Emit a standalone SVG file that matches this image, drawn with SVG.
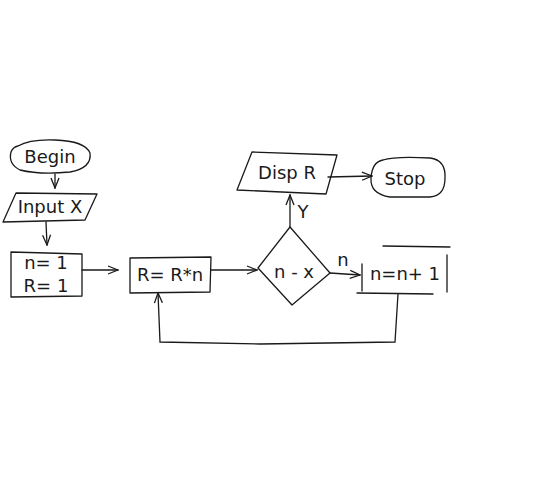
<svg xmlns="http://www.w3.org/2000/svg" width="538" height="480" viewBox="0 0 538 480">
<style>
.s{fill:none;stroke:#1a1a1a;stroke-width:1.3;stroke-linejoin:round;stroke-linecap:round}
.t{font-family:"DejaVu Sans","Liberation Sans",sans-serif;font-size:18px;fill:#1a1a1a;text-anchor:middle}
.c{fill:none;stroke:#1a1a1a;stroke-width:1.3;stroke-linecap:round;marker-end:url(#a)}
</style>
<defs>
<marker id="a" viewBox="0 0 12 10" refX="11" refY="5" markerWidth="12" markerHeight="10" markerUnits="userSpaceOnUse" orient="auto">
<path d="M1,1 L11,5 L1,9" fill="none" stroke="#1a1a1a" stroke-width="1.3"/>
</marker>
</defs>
<rect width="538" height="480" fill="#fff"/>
<g id="begin">
<path class="s" d="M18,146 Q30,139 55,140 Q85,141 90,153 Q92,168 70,172 Q40,175 20,170 Q8,164 11,152 Q13,147 18,146"/>
<text class="t" x="50" y="163">Begin</text>
</g>
<g id="input">
<path class="s" d="M16,193 L97,194 L85,220 L3,222 Z"/>
<text class="t" x="50" y="213" font-size="15">Input X</text>
</g>
<g id="init">
<path class="s" d="M11,252 L82,254 L82,296 L11,297 Z"/>
<text class="t" x="46" y="269">n= 1</text>
<text class="t" x="46" y="292">R= 1</text>
</g>
<g id="mult">
<path class="s" d="M130,258 L211,257 L210,292 L130,293 Z"/>
<text class="t" x="170" y="281">R= R*n</text>
</g>
<g id="decision">
<path class="s" d="M290,227 L330,273 L292,305 L258,268 Z"/>
<text class="t" x="294" y="278">n - x</text>
</g>
<g id="disp">
<path class="s" d="M252,152 L337,155 L326,194 L237,190 Z"/>
<text class="t" x="287" y="179">Disp R</text>
</g>
<g id="stop">
<path class="s" d="M383,160 Q395,156 430,158 Q446,160 445,178 Q445,196 430,197 L390,197 Q370,194 371,178 Q372,162 383,160"/>
<text class="t" x="405" y="185">Stop</text>
</g>
<g id="incr">
<path class="s" d="M383,246 L450,247 M447,255 L447,292 M433,294 L357,293 M362,264 L362,291"/>
<text class="t" x="405" y="280">n=n+ 1</text>
</g>
<g id="connectors">
<path class="c" d="M55,174 L55,188"/>
<path class="c" d="M46,222 L47,245"/>
<path class="c" d="M82,270 L118,270"/>
<path class="c" d="M211,270 L257,270"/>
<path class="c" d="M290,227 L290,195"/>
<text class="t" x="303" y="218" font-size="14">Y</text>
<path class="c" d="M328,177 L372,176"/>
<path class="c" d="M330,273 L360,275"/>
<text class="t" x="343" y="266" font-size="14">n</text>
<path class="c" d="M398,294 L395,342 L260,344 L160,342 L158,293"/>
</g>
</svg>
